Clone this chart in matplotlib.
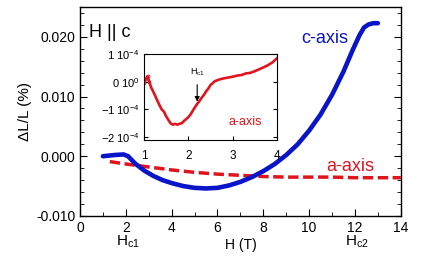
import numpy as np
import matplotlib
matplotlib.use("Agg")
import matplotlib.pyplot as plt
from matplotlib.ticker import MultipleLocator

plt.rcParams['font.family'] = ['Liberation Sans', 'DejaVu Sans']
plt.rcParams['mathtext.fontset'] = 'custom'
plt.rcParams['mathtext.rm'] = 'Liberation Sans'
plt.rcParams['mathtext.it'] = 'Liberation Sans'

# c-axis (blue), main panel
H_c = [1.0, 1.5, 1.9, 2.1, 2.4, 2.8, 3.2, 3.6, 4.0, 4.5, 5.0, 5.5, 6.0, 6.5, 7.0,
       7.5, 8.0, 8.5, 9.0, 9.5, 10.0, 10.5, 11.0, 11.5, 11.9, 12.2, 12.4, 12.6, 12.8, 13.0]
dL_c = [0.0000, 0.0002, 0.0003, 0.0000, -0.0012, -0.0024, -0.0033, -0.0040, -0.0045,
        -0.0050, -0.0053, -0.0054, -0.0053, -0.0049, -0.0043, -0.0035, -0.0025, -0.0013,
        0.0002, 0.0020, 0.0043, 0.0070, 0.0103, 0.0142, 0.0178, 0.0203, 0.0216, 0.0221,
        0.0223, 0.0223]

# a-axis (red dashed), main panel
H_a = [1.3, 2.0, 3.0, 4.0, 5.0, 6.0, 7.0, 8.0, 9.0, 10.0, 11.0, 12.0, 13.0, 14.0]
dL_a = [-0.0009, -0.0013, -0.0018, -0.0023, -0.0027, -0.0030, -0.0032, -0.0034,
        -0.0035, -0.0035, -0.0035, -0.0036, -0.0036, -0.0036]

# inset: a-axis at low field (units of 1e-4)
H_in = [1.0, 1.04, 1.08, 1.12, 1.16, 1.2, 1.25, 1.3, 1.35, 1.4, 1.45, 1.5, 1.55, 1.6,
        1.65, 1.7, 1.75, 1.8, 1.85, 1.9, 1.95, 2.0, 2.05, 2.1, 2.15, 2.2, 2.25, 2.3,
        2.35, 2.4, 2.45, 2.5, 2.55, 2.6, 2.7, 2.8, 2.9, 3.0, 3.1, 3.2, 3.3, 3.4, 3.5,
        3.6, 3.7, 3.8, 3.9, 4.0]
dL_in = [-0.05, 0.10, 0.20, 0.0, -0.20, -0.33, -0.50, -0.68, -0.85, -1.00, -1.08,
         -1.25, -1.38, -1.50, -1.55, -1.52, -1.55, -1.52, -1.50, -1.42, -1.35, -1.28,
         -1.18, -1.05, -0.92, -0.80, -0.70, -0.58, -0.48, -0.35, -0.25, -0.12, -0.05,
         0.02, 0.08, 0.12, 0.15, 0.18, 0.22, 0.24, 0.30, 0.32, 0.38, 0.45, 0.52, 0.60,
         0.70, 0.85]

xticks = [0, 2, 4, 6, 8, 10, 12, 14]
yticks = [-0.010, 0.000, 0.010, 0.020]
yticklabels = ['-0.010', '0.000', '0.010', '0.020']
in_yticks = [-2e-4, -1e-4, 0, 1e-4]
in_yticklabels = [r'$-2\ 10^{-4}$', r'$-1\ 10^{-4}$', r'$0\ 10^{0}$', r'$1\ 10^{-4}$']

blue = '#0a14c8'
red = '#e0141e'

fig = plt.figure(figsize=(4.21, 2.62), dpi=100)
ax = fig.add_axes([0.190, 0.176, 0.762, 0.797])

ax.plot(H_a, dL_a, color=red, lw=2.5, dashes=(3, 1.3))
ax.plot(H_c, dL_c, color=blue, lw=3.3, solid_capstyle='round')

ax.set_xlim(0, 14)
ax.set_ylim(-0.010, 0.025)
ax.set_xticks(xticks)
ax.set_yticks(yticks)
ax.set_yticklabels(yticklabels)
ax.xaxis.set_minor_locator(MultipleLocator(1))
ax.yaxis.set_minor_locator(MultipleLocator(0.002))
ax.tick_params(which='both', direction='in', labelsize=10, right=True, top=False)
ax.tick_params(which='major', length=5)
ax.tick_params(which='minor', length=3)
for s in ax.spines.values():
    s.set_linewidth(1.0)

ax.set_xlabel('H (T)', fontsize=10, labelpad=2)
ax.set_ylabel('ΔL/L (%)', fontsize=11, labelpad=3)

ax.text(0.4, 0.0207, 'H || c', fontsize=13, va='center', ha='left')
ax.text(10.7, 0.0198, 'c-axis', fontsize=13, color=blue, ha='center', va='center')
ax.text(11.8, -0.0018, 'a-axis', fontsize=13, color=red, ha='center', va='center')

ax.text(2.1, -0.0143, r'$\mathrm{H}_{\mathrm{c1}}$', fontsize=11, ha='center', va='center')
ax.text(12.1, -0.0143, r'$\mathrm{H}_{\mathrm{c2}}$', fontsize=11, ha='center', va='center')

# inset
ins = fig.add_axes([0.342, 0.466, 0.316, 0.328])
ins.plot(H_in, [v * 1e-4 for v in dL_in], color=red, lw=1.9)
ins.plot(H_in[:4], [v * 1e-4 for v in dL_in[:4]], 'o', color=red, ms=2, mfc='none', mew=0.6)
ins.set_xlim(1, 4)
ins.set_ylim(-2.1e-4, 1.0e-4)
ins.set_xticks([1, 2, 3, 4])
ins.set_yticks(in_yticks)
ins.set_yticklabels(in_yticklabels)
ins.tick_params(direction='in', labelsize=8, right=True, length=3, pad=3)
ins.tick_params(axis='x', pad=7, labelsize=8.5)
ins.text(3.28, -1.44e-4, 'a-axis', fontsize=9, color=red, ha='center', va='center')
ins.annotate(r'$\mathrm{H}_{\mathrm{c1}}$', xy=(2.2, -0.72e-4), xytext=(2.2, 0.35e-4),
             fontsize=6.5, ha='center', va='center',
             arrowprops=dict(arrowstyle='-|>', color='black', lw=0.8,
                             shrinkA=3, shrinkB=0, mutation_scale=7))

fig.savefig('out.png', dpi=100)
